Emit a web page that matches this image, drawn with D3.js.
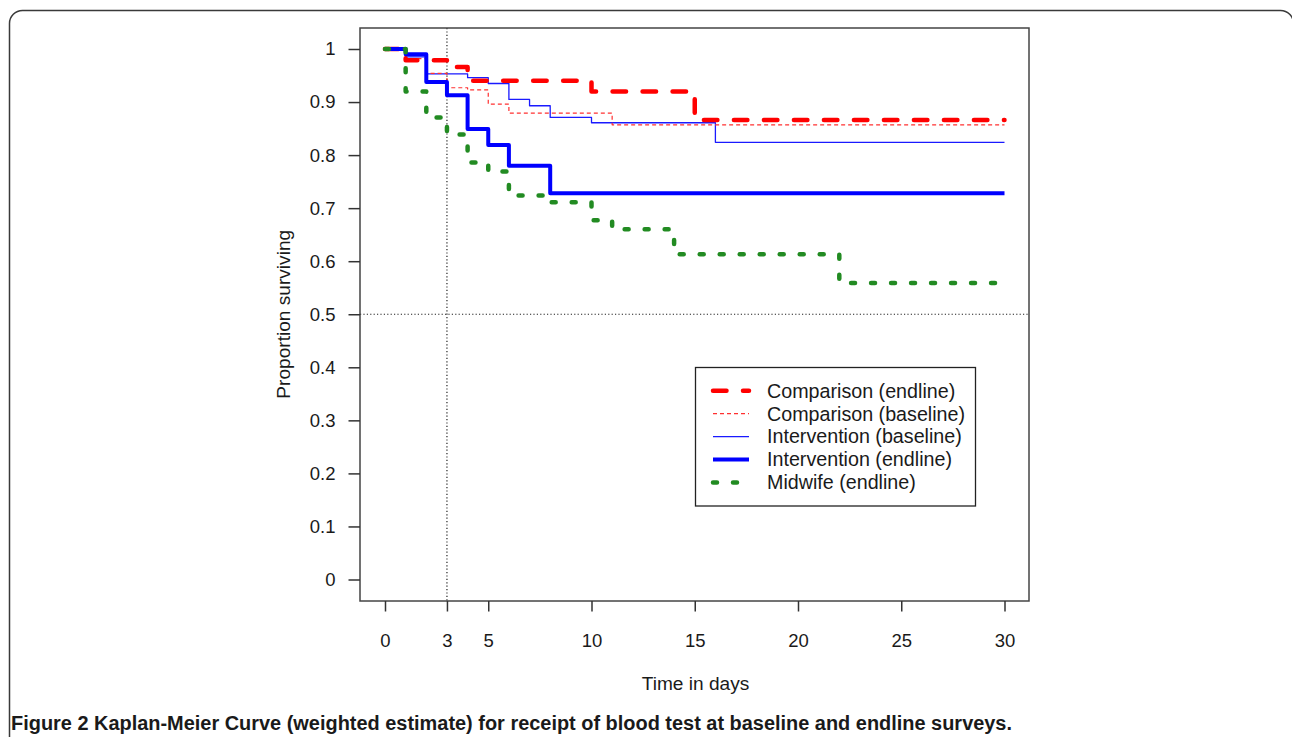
<!DOCTYPE html>
<html>
<head>
<meta charset="utf-8">
<script src="https://cdn.jsdelivr.net/npm/d3@7"></script>
<style>
  html, body { margin: 0; padding: 0; background: #fff; }
  svg { display: block; }
  text { font-family: "Liberation Sans", Arial, Helvetica, sans-serif; fill: #1a1a1a; }
</style>
</head>
<body>
<svg id="chart" width="1292" height="737"></svg>
<script>
// ---------- data ----------
const xTicks = [0, 3, 5, 10, 15, 20, 25, 30];
const yTicks = [0, 0.1, 0.2, 0.3, 0.4, 0.5, 0.6, 0.7, 0.8, 0.9, 1];
const yTickLabels = ["0", "0.1", "0.2", "0.3", "0.4", "0.5", "0.6", "0.7", "0.8", "0.9", "1"];
const endDay = 30;

const compEndTimes = [0, 1, 3, 4, 10, 15];
const compEndSurv  = [1, 0.979, 0.966, 0.940, 0.920, 0.866];

const compBaseTimes = [0, 1, 2, 3, 4, 5, 6, 11];
const compBaseSurv  = [1, 0.982, 0.954, 0.927, 0.923, 0.896, 0.879, 0.857];

const intBaseTimes = [0, 1, 2, 4, 5, 6, 7, 8, 10, 16];
const intBaseSurv  = [1, 0.985, 0.953, 0.946, 0.935, 0.905, 0.893, 0.871, 0.861, 0.824];

const intEndTimes = [0, 1, 2, 3, 4, 5, 6, 8];
const intEndSurv  = [1, 0.990, 0.938, 0.913, 0.849, 0.819, 0.780, 0.728];

const midTimes = [0, 1, 2, 3, 4, 5, 6, 8, 10, 11, 14, 22];
const midSurv  = [1, 0.920, 0.871, 0.839, 0.786, 0.769, 0.724, 0.711, 0.677, 0.660, 0.613, 0.559];

const legendLabels = ["Comparison (endline)", "Comparison (baseline)", "Intervention (baseline)", "Intervention (endline)", "Midwife (endline)"];
const refDay = 3;
const refSurv = 0.5;

// ---------- styles ----------
const styles = {
  compEnd:  { color: "#ff0000", width: 4.5, dash: "13.5,16.5", cap: "round" },
  compBase: { color: "#ff3030", width: 1.2, dash: "4,3",       cap: "butt" },
  intBase:  { color: "#1a1aff", width: 1.3, dash: null,        cap: "butt" },
  intEnd:   { color: "#0000ff", width: 4,   dash: null,        cap: "butt" },
  mid:      { color: "#228b22", width: 4.5, dash: "4,16",      cap: "round" }
};

const series = [
  { key: "intBase",  t: intBaseTimes,  s: intBaseSurv },
  { key: "compBase", t: compBaseTimes, s: compBaseSurv },
  { key: "compEnd",  t: compEndTimes,  s: compEndSurv },
  { key: "intEnd",   t: intEndTimes,   s: intEndSurv },
  { key: "mid",      t: midTimes,      s: midSurv }
];
const legendKeys = ["compEnd", "compBase", "intBase", "intEnd", "mid"];

// ---------- layout ----------
const svg = d3.select("#chart");
const box = { left: 360, right: 1029, top: 28, bottom: 601 };
const x = d3.scaleLinear().domain([0, 30]).range([385, 1004.5]);
const y = d3.scaleLinear().domain([0, 1]).range([579.5, 49]);

// outer frame (rounded, extending beyond right/bottom)
svg.append("rect")
  .attr("x", 9.5).attr("y", 10.5)
  .attr("width", 1284).attr("height", 780)
  .attr("rx", 13).attr("ry", 13)
  .attr("fill", "none").attr("stroke", "#3a3a3a").attr("stroke-width", 1.5);

// reference dotted lines
svg.append("line")
  .attr("x1", x(refDay)).attr("x2", x(refDay))
  .attr("y1", box.top).attr("y2", box.bottom)
  .attr("stroke", "#222").attr("stroke-width", 1.2).attr("stroke-dasharray", "1.2,2.2");
svg.append("line")
  .attr("x1", box.left).attr("x2", box.right)
  .attr("y1", y(refSurv)).attr("y2", y(refSurv))
  .attr("stroke", "#222").attr("stroke-width", 1.2).attr("stroke-dasharray", "1.2,2.2");

// curves
const line = d3.line().x(d => x(d[0])).y(d => y(d[1])).curve(d3.curveStepAfter);
series.forEach(sr => {
  const pts = sr.t.map((t, i) => [t, sr.s[i]]);
  pts.push([endDay, sr.s[sr.s.length - 1]]);
  const st = styles[sr.key];
  svg.append("path")
    .datum(pts)
    .attr("d", line)
    .attr("fill", "none")
    .attr("stroke", st.color)
    .attr("stroke-width", st.width)
    .attr("stroke-linecap", st.cap)
    .attr("stroke-linejoin", "round")
    .attr("stroke-dasharray", st.dash);
});

// plot box
svg.append("rect")
  .attr("x", box.left).attr("y", box.top)
  .attr("width", box.right - box.left).attr("height", box.bottom - box.top)
  .attr("fill", "none").attr("stroke", "#444").attr("stroke-width", 1.5);

// x axis
const xAxis = d3.axisBottom(x).tickValues(xTicks).tickSize(10.5).tickPadding(22).tickSizeOuter(0);
const gx = svg.append("g").attr("transform", `translate(0,${box.bottom})`).call(xAxis);
gx.select(".domain").remove();
gx.selectAll(".tick line").attr("stroke", "#333").attr("stroke-width", 1.5);
gx.selectAll(".tick text").attr("font-size", 18.5).attr("fill", "#1a1a1a")
  .attr("font-family", '"Liberation Sans", Arial, sans-serif');

// y axis
const yAxis = d3.axisLeft(y).tickValues(yTicks).tickFormat((d, i) => yTickLabels[i]).tickSize(11.5).tickPadding(13).tickSizeOuter(0);
const gy = svg.append("g").attr("transform", `translate(${box.left},0)`).call(yAxis);
gy.select(".domain").remove();
gy.selectAll(".tick line").attr("stroke", "#333").attr("stroke-width", 1.5);
gy.selectAll(".tick text").attr("font-size", 18.5).attr("fill", "#1a1a1a")
  .attr("font-family", '"Liberation Sans", Arial, sans-serif');

// axis titles
svg.append("text")
  .attr("x", (box.left + box.right) / 2 + 1).attr("y", 690)
  .attr("text-anchor", "middle").attr("font-size", 19.1)
  .text("Time in days");
svg.append("text")
  .attr("transform", `translate(290,${(49 + 579.5) / 2}) rotate(-90)`)
  .attr("text-anchor", "middle").attr("font-size", 19.1)
  .text("Proportion surviving");

// legend
const lg = svg.append("g");
lg.append("rect")
  .attr("x", 695.5).attr("y", 367.5).attr("width", 280).attr("height", 138.5)
  .attr("fill", "#fff").attr("stroke", "#222").attr("stroke-width", 1.3);
legendKeys.forEach((k, i) => {
  const st = styles[k];
  const yy = 390.8 + i * 22.9;
  lg.append("line")
    .attr("x1", 713).attr("x2", 749)
    .attr("y1", yy).attr("y2", yy)
    .attr("stroke", st.color).attr("stroke-width", st.width)
    .attr("stroke-linecap", st.cap)
    .attr("stroke-dasharray", st.dash);
  lg.append("text")
    .attr("x", 767).attr("y", yy).attr("dy", "0.35em")
    .attr("font-size", 19.7)
    .text(legendLabels[i]);
});

// caption
const cap = svg.append("text")
  .attr("x", 11).attr("y", 730)
  .attr("font-family", '"Liberation Sans Narrow", "Open Sans", "Noto Sans", sans-serif')
  .attr("font-size", 19.5)
  .attr("font-weight", 600)
  .attr("fill", "#111")
  .attr("textLength", 1001)
  .attr("lengthAdjust", "spacingAndGlyphs");
cap.append("tspan").attr("font-weight", 700).text("Figure 2");
cap.append("tspan").text(" Kaplan-Meier Curve (weighted estimate) for receipt of blood test at baseline and endline surveys.");
</script>
</body>
</html>
